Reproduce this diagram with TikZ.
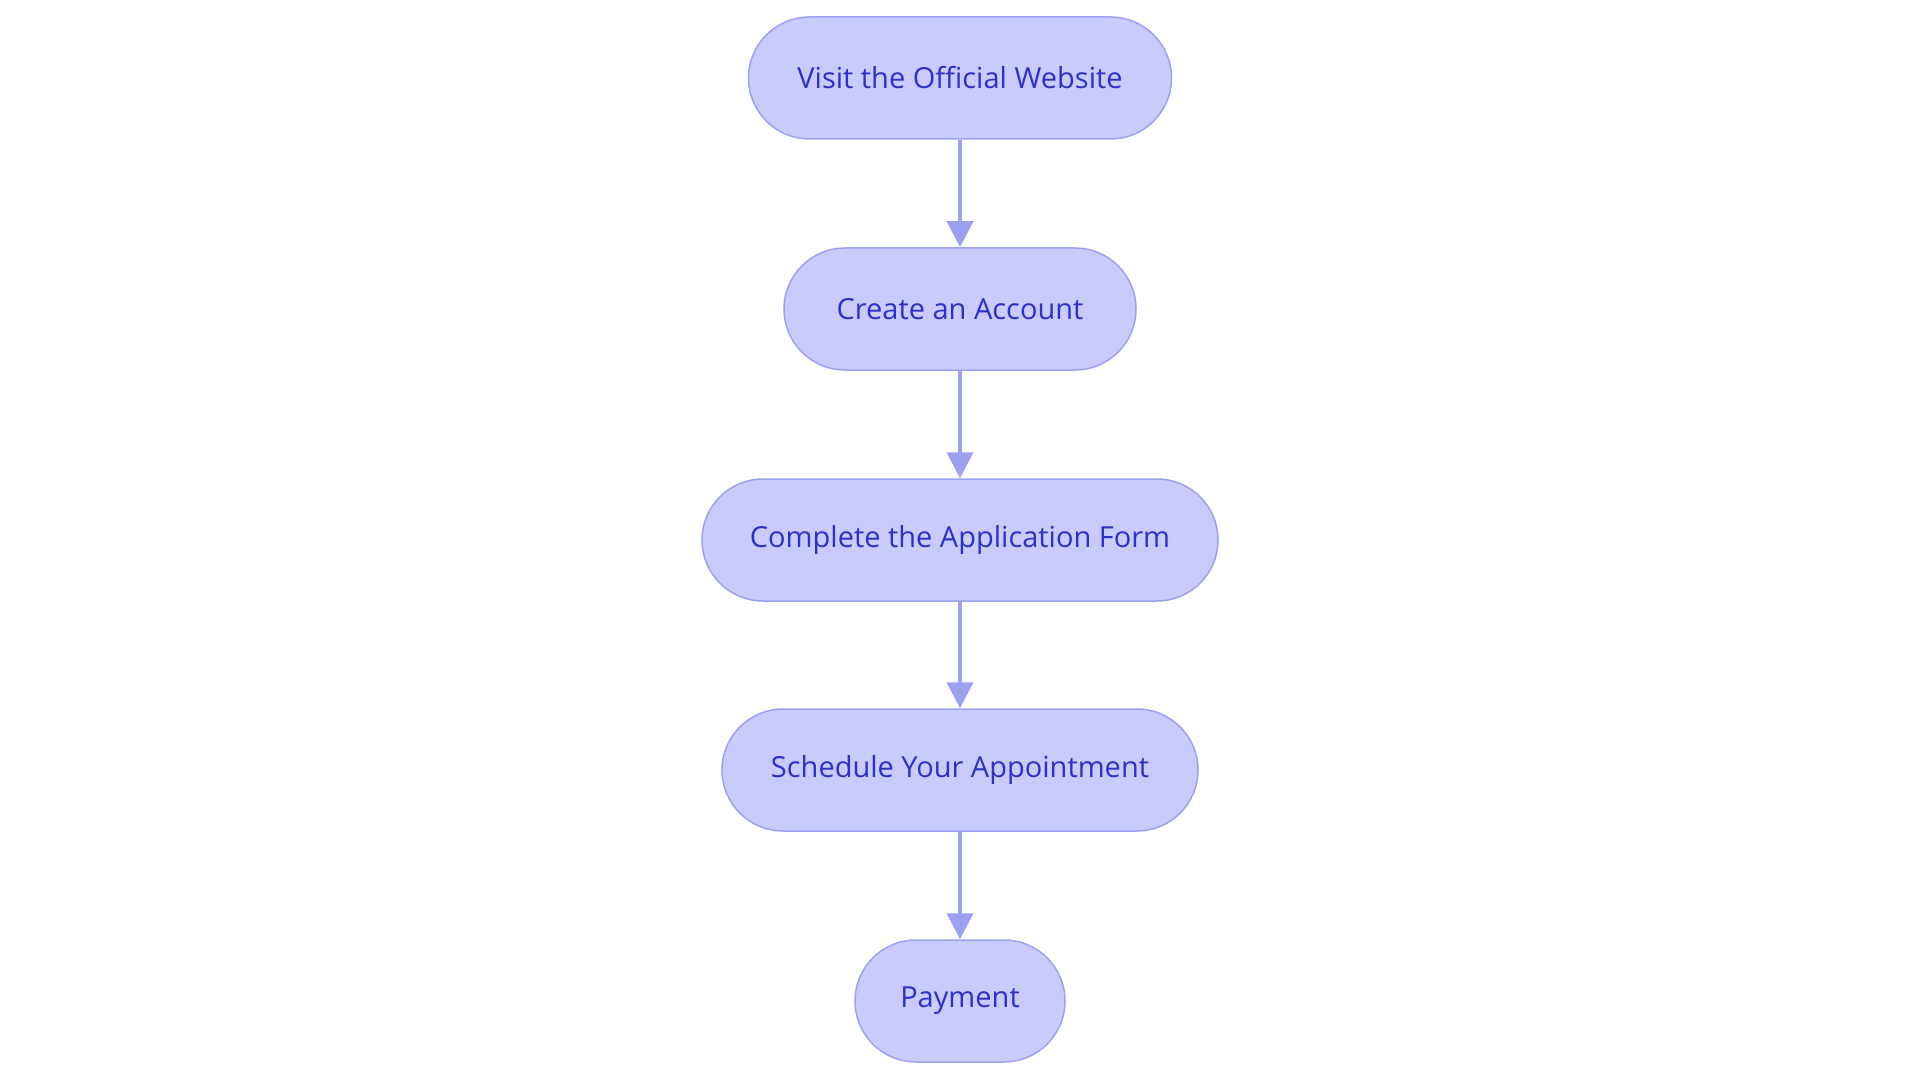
\documentclass[tikz,border=0pt]{standalone}
\usepackage{fontspec}
\setmainfont{Open Sans}
\usetikzlibrary{arrows.meta}
\definecolor{nodefill}{HTML}{C9CBFC}
\definecolor{nodeline}{HTML}{9CA1F0}
\definecolor{nodetext}{HTML}{2B31C9}
\definecolor{arrowcol}{HTML}{9CA0F0}
\tikzset{
  stepbox/.style={draw=nodeline, line width=1.5pt, fill=nodefill, rounded corners=61pt,
    minimum height=122pt, inner sep=0pt, text=nodetext, font=\fontsize{29}{34}\selectfont},
  flow/.style={draw=arrowcol, line width=4pt, -{Triangle[length=26pt,width=26pt]}, shorten >=0pt}
}
\begin{document}
\begin{tikzpicture}[x=1pt,y=1pt]
\useasboundingbox (0,0) rectangle (1920,-1083);
\node[stepbox, minimum width=423pt] (n1) at (960,-78) {Visit the Official Website};
\node[stepbox, minimum width=352pt] (n2) at (960,-309) {Create an Account};
\node[stepbox, minimum width=516pt] (n3) at (960,-540) {Complete the Application Form};
\node[stepbox, minimum width=476pt] (n4) at (960,-770) {Schedule Your Appointment};
\node[stepbox, minimum width=210pt] (n5) at (960,-1001) {Payment};
\draw[flow] (n1) -- (n2);
\draw[flow] (n2) -- (n3);
\draw[flow] (n3) -- (n4);
\draw[flow] (n4) -- (n5);
\end{tikzpicture}
\end{document}
